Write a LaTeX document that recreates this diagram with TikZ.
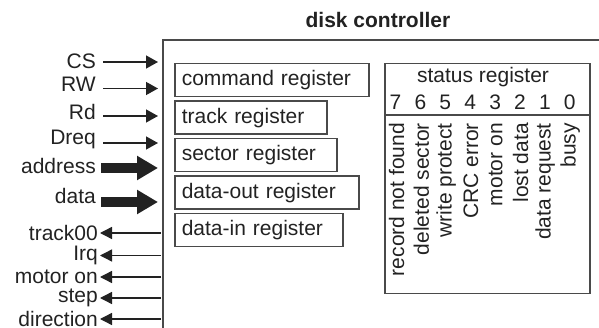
\documentclass[tikz,border=0pt]{standalone}
\usepackage{fontspec}
\setmainfont{Liberation Sans}
\usetikzlibrary{arrows.meta}
\definecolor{linegray}{HTML}{4A4A4A}
\definecolor{textgray}{HTML}{222222}
\begin{document}
\begin{tikzpicture}[x=1pt,y=-1pt,
  every node/.style={font=\fontsize{21}{24}\selectfont, text=textgray, inner sep=0pt},
  regbox/.style={draw=linegray, line width=1.5pt, anchor=north west, inner xsep=7pt, minimum height=33pt, align=left},
  lbl/.style={anchor=east},
  vlbl/.style={rotate=90, anchor=east},
  inarrow/.style={draw=textgray, line width=1.4pt, -{Triangle[length=12pt,width=13pt]}},
  outarrow/.style={draw=textgray, line width=1.4pt, -{Triangle[length=12pt,width=12pt]}},
  busarrow/.style={draw=textgray, line width=10pt, -{Triangle[length=21pt,width=23pt]}},
  boxline/.style={draw=linegray, line width=2pt}
]
\useasboundingbox (0,0) rectangle (599,328);

% title
\node[font=\fontsize{21}{24}\selectfont\bfseries] (title) at (378,20) {disk controller};

% controller outline
\coordinate (mbtl) at (163,40);
\coordinate (mbtr) at (599,40);
\coordinate (mbbl) at (163,328);
\draw[boxline] (mbtr) -- (mbtl) -- (mbbl);

% registers
\node[regbox, text width=180pt] (cmd) at (174,63) {command register};
\node[regbox, text width=138pt] (trk) at (174,100.5) {track register};
\node[regbox, text width=148pt] (sec) at (174,138) {sector register};
\node[regbox, text width=170pt] (dout) at (174,175.5) {data-out register};
\node[regbox, text width=154pt] (din) at (174,213) {data-in register};

% status register
\node[draw=linegray, line width=1.5pt, anchor=north west, minimum width=205pt, minimum height=230pt] (status) at (384,63) {};
\coordinate (sepl) at (384,115);
\coordinate (sepr) at (589,115);
\draw[draw=linegray, line width=1.5pt] (sepl) -- (sepr);
\node (stitle) at (483,77.5) {status register};
\foreach \i/\t [count=\k from 0] in {7/record not found,6/deleted sector,5/write protect,4/CRC error,3/motor on,2/lost data,1/data request,0/busy}{
  \node (bit\i) at (395.5+24.9*\k,102) {\i};
  \node[vlbl] (flag\i) at (396.5+24.8*\k,123) {\t};
}

% input signals
\foreach \name/\t/\ty/\ay in {cs/CS/61/62, rw/RW/84/88.5, rd/Rd/112/116, dreq/Dreq/139/143}{
  \node[lbl] (\name) at (96,\ty) {\t};
  \coordinate (\name s) at (103,\ay);
  \coordinate (\name e) at (158,\ay);
  \draw[inarrow] (\name s) -- (\name e);
}
\foreach \name/\t/\ty/\ay in {addr/address/166/168, data/data/196/202}{
  \node[lbl] (\name) at (96,\ty) {\t};
  \coordinate (\name s) at (101,\ay);
  \coordinate (\name e) at (158,\ay);
  \draw[busarrow] (\name s) -- (\name e);
}

% output signals
\foreach \name/\t/\ay in {trk0/track00/233, irq/Irq/255.5, mot/motor on/277, stp/step/298, dir/direction/319}{
  \node[lbl] (\name) at (98,\ay) {\t};
  \coordinate (\name s) at (161,\ay);
  \coordinate (\name e) at (100,\ay);
  \draw[outarrow] (\name s) -- (\name e);
}
\end{tikzpicture}
\end{document}
